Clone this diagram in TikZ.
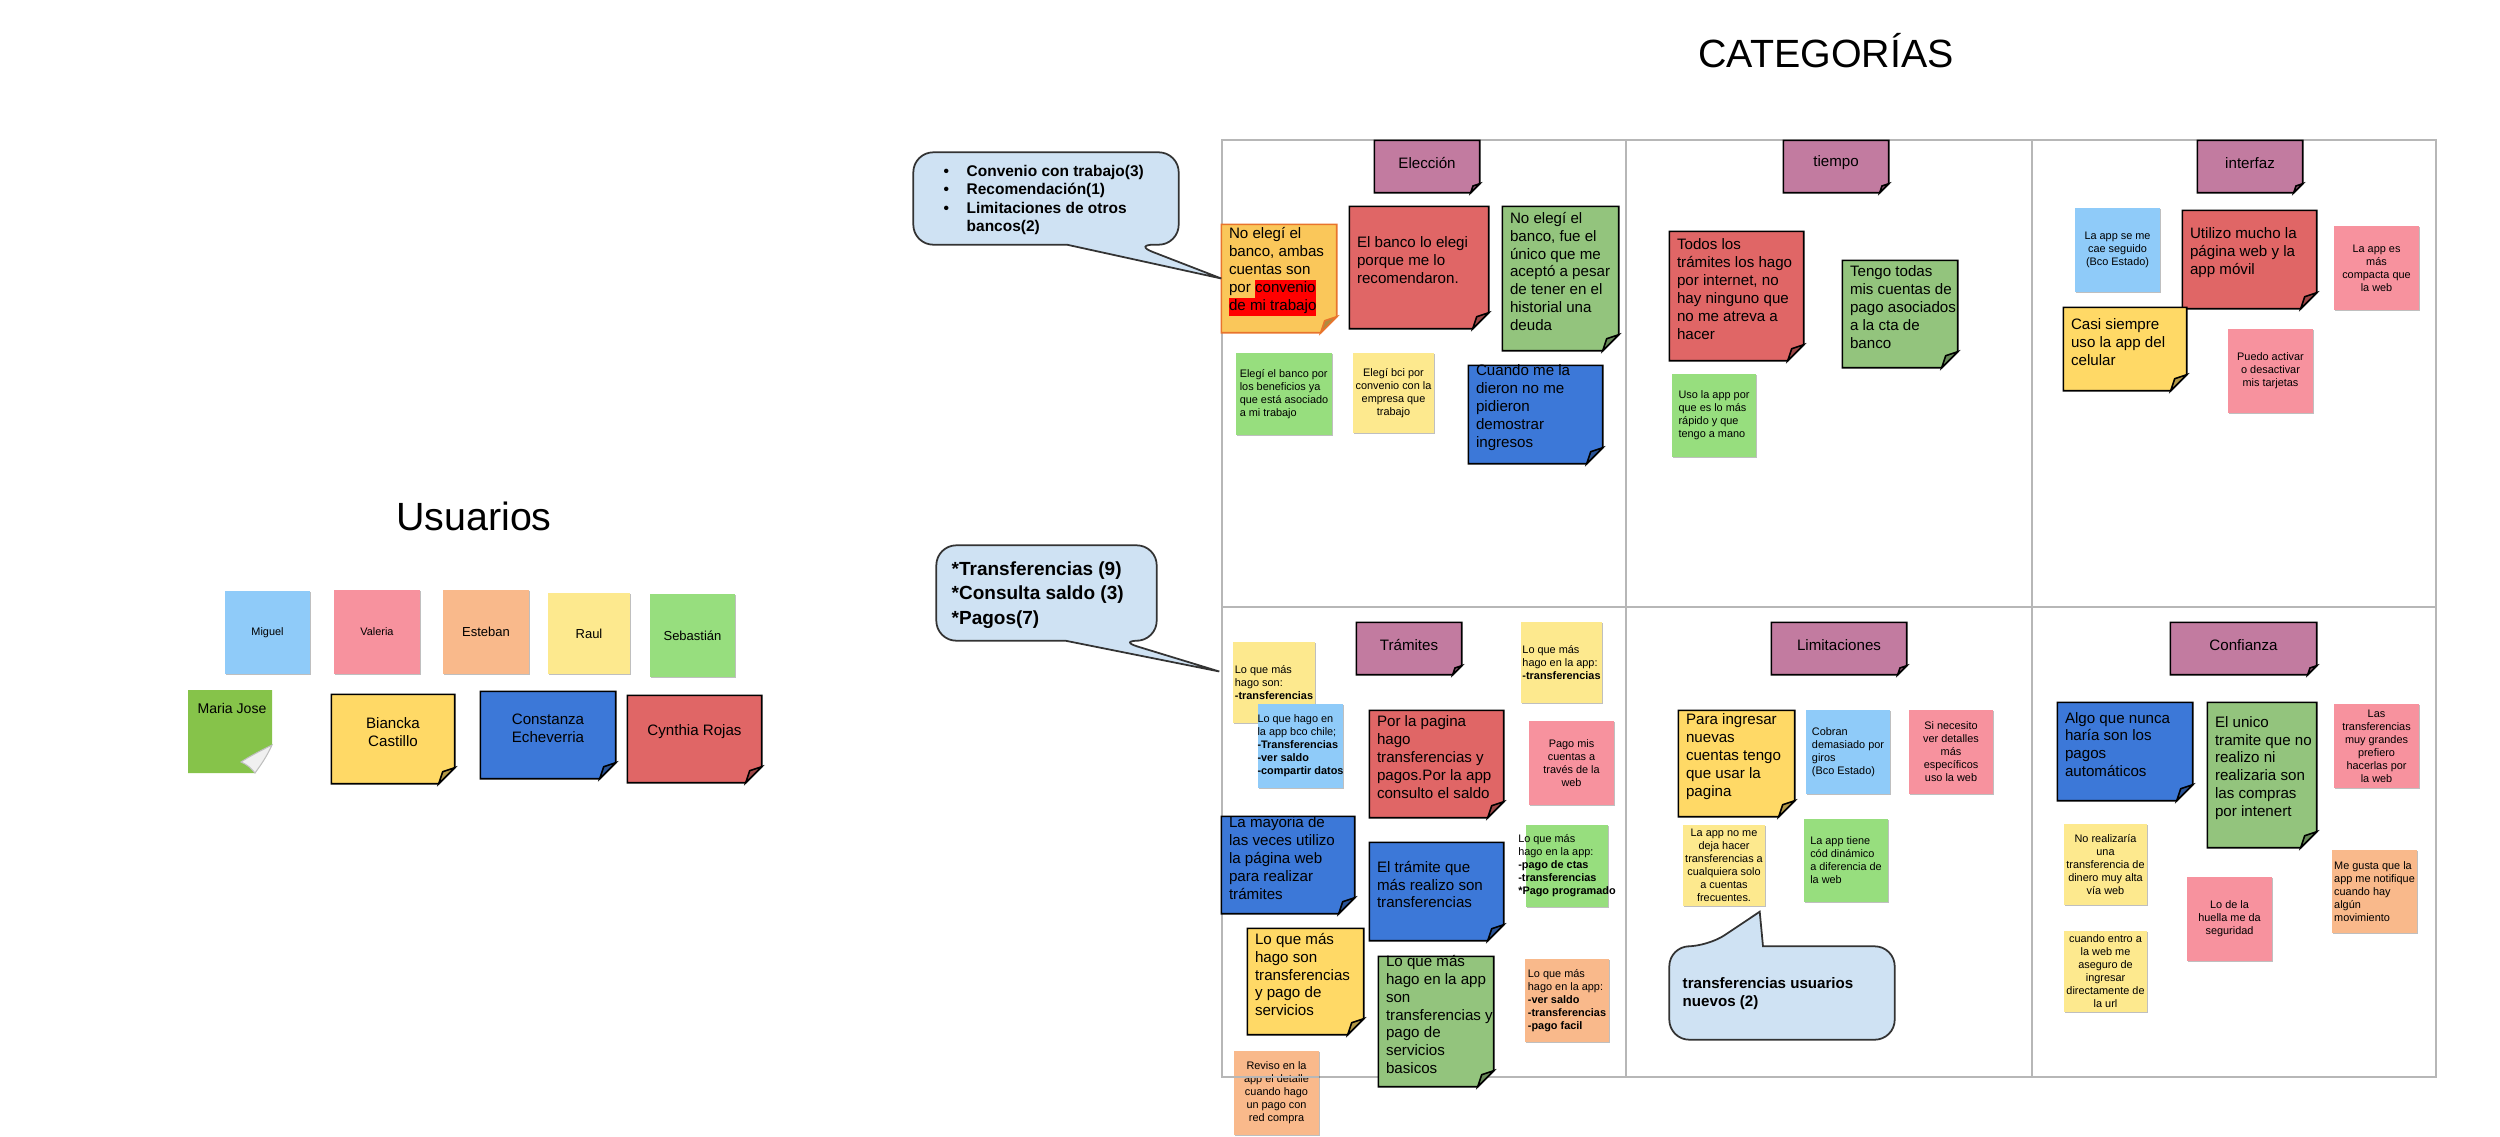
\documentclass[tikz,border=0pt]{standalone}
\usepackage{fontspec}
\setmainfont{Liberation Sans}
\usetikzlibrary{fit,shadows}

\definecolor{nyellow}{HTML}{FFD966}
\definecolor{nyellow2}{HTML}{FAC75A}
\definecolor{borange}{HTML}{E8742C}
\definecolor{nblue}{HTML}{3C78D8}
\definecolor{nred}{HTML}{E06666}
\definecolor{ngreen}{HTML}{93C47D}
\definecolor{npurple}{HTML}{C27BA0}
\definecolor{pblue}{HTML}{8FCBF9}
\definecolor{ppink}{HTML}{F7929E}
\definecolor{porange}{HTML}{F9B98B}
\definecolor{pyellow}{HTML}{FDE98E}
\definecolor{pgreen}{HTML}{97DE7E}
\definecolor{mjgreen}{HTML}{86C34A}
\definecolor{callblue}{HTML}{CFE2F3}
\definecolor{gridgray}{HTML}{B7B7B7}
\definecolor{hlred}{HTML}{FF0000}

\def\fo{0.16cm}
\def\tup{0.07cm}
\def\nbcol{black}
\tikzset{
  grid line/.style={draw=gridgray, line width=0.4pt},
  notebox/.style={draw=\nbcol, line width=0.45pt},
  paper/.style={fill=#1, drop shadow={shadow xshift=0.25pt, shadow yshift=-0.35pt, opacity=0.25, fill=black}},
  btext/.style={font=\fontsize{4.3}{5.1}\selectfont, inner sep=0pt},
  ptext/.style={font=\fontsize{3.1}{3.7}\selectfont, inner sep=0pt},
  txtleft/.style={align=left, anchor=west, at={([xshift=0.07cm,yshift=\tup]#1.west)}},
  txtcenter/.style={align=center, anchor=center, at={([yshift=\tup]#1.center)}},
  callshape/.style={fill=callblue, draw=black!80, line width=0.5pt},
}
\newcommand{\hlight}[1]{{\setlength{\fboxsep}{0pt}\colorbox{hlred}{\strut #1}}}
\newcommand{\bignote}[6][left]{\node[fit={(#4) (#5)}, inner sep=0pt] (#2) {};
  \filldraw[notebox, fill=#3] (#2.north west) -- (#2.north east) -- ([yshift=\fo]#2.south east) -- ([xshift=-\fo]#2.south east) -- (#2.south west) -- cycle;
  \filldraw[notebox, fill=#3!70!black] ([yshift=\fo]#2.south east) -- ([xshift=-\fo]#2.south east) -- ([xshift=-0.75*\fo, yshift=0.75*\fo]#2.south east) -- cycle;
  \node[btext, txt#1=#2] (#2-t) {#6};}
\newcommand{\header}[4]{{\def\fo{0.09cm}\def\tup{0.035cm}\bignote[center]{#1}{npurple}{#2}{#3}{#4}}}
\newcommand{\papernote}[6][left]{\node[paper=#3, fit={(#4) (#5)}, inner sep=0pt] (#2) {};
  \node[ptext, align=#1] (#2-t) at (#2.center) {#6};}

\begin{document}
\begin{tikzpicture}[x=0.01cm, y=-0.01cm]
    \useasboundingbox (0,0) rectangle (2500,1136);
    \node[font=\fontsize{11.2}{13}\selectfont, anchor=base, inner sep=0pt] (cat) at (1826,67) {CATEGORÍAS};
    \node[font=\fontsize{11.2}{13}\selectfont, anchor=base, inner sep=0pt] (usr) at (474,530) {Usuarios};
    % grid
    \draw[grid line] (1222,140) rectangle (2436,1077);
    \draw[grid line] (1626,140) -- (1626,1077) (2032,140) -- (2032,1077) (1222,607) -- (2436,607);
    % usuarios
    \papernote[center]{uMiguel}{pblue}{225,591}{310,674}{Miguel}
    \papernote[center]{uValeria}{ppink}{334,590}{420,674}{Valeria}
    \papernote[center]{uEsteban}{porange}{443,590}{529,674}{\fontsize{3.7}{4.4}\selectfont Esteban}
    \papernote[center]{uRaul}{pyellow}{548,593}{630,674}{\fontsize{3.7}{4.4}\selectfont Raul}
    \papernote[center]{uSebastian}{pgreen}{650,594}{735,677}{\fontsize{3.7}{4.4}\selectfont Sebastián}
    \node[fit={(188,690) (272,773)}, inner sep=0pt] (uMariaJose) {};
    \fill[mjgreen] (188,690) -- (272,690) -- (272,745) .. controls (266,758) and (260,766) .. (255,773) -- (188,773) -- cycle;
    \filldraw[fill=black!6, draw=black!25, line width=0.3pt] (272,745) .. controls (262,750) and (250,756) .. (241,762) .. controls (248,765) and (252,769) .. (255,773) .. controls (260,766) and (266,758) .. (272,745) -- cycle;
    \node[font=\fontsize{4}{4.8}\selectfont, inner sep=0pt] (uMariaJose-t) at (232,708) {Maria Jose};
    \bignote[center]{uBiancka}{nyellow}{332,695}{454,783}{Biancka\\Castillo}
    \bignote[center]{uConstanza}{nblue}{481,692}{615,778}{Constanza\\Echeverria}
    \bignote[center]{uCynthia}{nred}{628,696}{761,782}{Cynthia Rojas}
    % Eleccion
    \header{hE}{1375,141}{1479,192}{Elección}
    {\def\nbcol{borange}\bignote{E1}{nyellow2}{1222,225}{1336,332}{No elegí el\\banco, ambas\\cuentas son\\por \hlight{convenio}\\\hlight{de mi trabajo}}}
    \bignote{E2}{nred}{1350,207}{1488,328}{El banco lo elegi\\porque me lo\\recomendaron.}
    \bignote{E3}{ngreen}{1503,207}{1618,350}{No elegí el\\banco, fue el\\único que me\\aceptó a pesar\\de tener en el\\historial una\\deuda}
    \papernote{E4}{pgreen}{1236,353}{1332,435}{Elegí el banco por\\los beneficios ya\\que está asociado\\a mi trabajo}
    \papernote[center]{E5}{pyellow}{1353,353}{1434,433}{Elegí bci por\\convenio con la\\empresa que\\trabajo}
    \bignote{E6}{nblue}{1469,366}{1602,463}{Cuando me la\\dieron no me\\pidieron\\demostrar\\ingresos}
    \node[fit={(914,153) (1178,244)}, inner sep=0pt] (cE) {};
    \filldraw[callshape] (cE.north) [rounded corners=0.2cm] -- (cE.north east) -- (cE.south east) -- ([xshift=0.88cm]cE.south) [sharp corners] -- (E1.west) -- ([xshift=0.21cm]cE.south) [rounded corners=0.2cm] -- (cE.south west) -- (cE.north west) -- cycle;
    \node[font=\bfseries\fontsize{4.4}{5.2}\selectfont, align=left, anchor=west, inner sep=0pt] (cE-t) at (966,200) {\llap{\textbullet\hspace{5pt}}Convenio con trabajo(3)\\\llap{\textbullet\hspace{5pt}}Recomendación(1)\\\llap{\textbullet\hspace{5pt}}Limitaciones de otros\\bancos(2)};
    % tiempo
    \header{hTi}{1784,141}{1888,192}{tiempo}
    \bignote{Ti1}{nred}{1670,232}{1803,360}{Todos los\\trámites los hago\\por internet, no\\hay ninguno que\\no me atreva a\\hacer}
    \bignote{Ti2}{ngreen}{1843,261}{1957,367}{Tengo todas\\mis cuentas de\\pago asociados\\a la cta de\\banco}
    \papernote{Ti3}{pgreen}{1672,374}{1756,457}{Uso la app por\\que es lo más\\rápido y que\\tengo a mano}
    % interfaz
    \header{hI}{2198,141}{2302,192}{interfaz}
    \papernote[center]{I1}{pblue}{2075,208}{2160,292}{La app se me\\cae seguido\\(Bco Estado)}
    \bignote{I2}{nred}{2183,211}{2316,308}{Utilizo mucho la\\página web y la\\app móvil}
    \papernote[center]{I3}{ppink}{2334,226}{2419,310}{La app es\\más\\compacta que\\la web}
    \bignote{I4}{nyellow}{2064,308}{2186,390}{Casi siempre\\uso la app del\\celular}
    \papernote[center]{I5}{ppink}{2228,329}{2313,413}{Puedo activar\\o desactivar\\mis tarjetas}
    % Tramites
    \header{hT}{1357,623}{1461,674}{Trámites}
    \papernote{T1}{pyellow}{1233,642}{1315,723}{Lo que más\\hago son:\\\textbf{-transferencias}}
    \papernote{T2}{pblue}{1258,704}{1343,788}{Lo que hago en\\la app bco chile;\\\textbf{-Transferencias}\\\textbf{-ver saldo}\\\textbf{-compartir datos}}
    \bignote{T3}{nred}{1370,711}{1503,817}{Por la pagina\\hago\\transferencias y\\pagos.Por la app\\consulto el saldo}
    \papernote{T4}{pyellow}{1521,622}{1602,703}{Lo que más\\hago en la app:\\\textbf{-transferencias}}
    \papernote[center]{T5}{ppink}{1529,721}{1614,805}{Pago mis\\cuentas a\\través de la\\web}
    \bignote{T6}{nblue}{1222,817}{1354,913}{La mayoria de\\las veces utilizo\\la página web\\para realizar\\trámites}
    \bignote{T7}{nblue}{1370,843}{1503,940}{El trámite que\\más realizo son\\transferencias}
    \papernote{T8}{pgreen}{1526,825}{1608,907}{Lo que más\\hago en la app:\\\textbf{-pago de ctas}\\\textbf{-transferencias}\\\textbf{*Pago programado}}
    \bignote{T9}{nyellow}{1248,929}{1363,1034}{Lo que más\\hago son\\transferencias\\y pago de\\servicios}
    \papernote[center]{T12}{porange}{1234,1051}{1319,1135}{Reviso en la\\app el detalle\\cuando hago\\un pago con\\red compra}
    \draw[grid line] (1234,1077) -- (1319,1077);
    \bignote{T10}{ngreen}{1379,957}{1493,1086}{Lo que más\\hago en la app\\son\\transferencias y\\pago de\\servicios\\basicos}
    \papernote{T11}{porange}{1525,959}{1609,1042}{Lo que más\\hago en la app:\\\textbf{-ver saldo}\\\textbf{-transferencias}\\\textbf{-pago facil}}
    \node[fit={(937,546) (1156,640)}, inner sep=0pt] (cT) {};
    \filldraw[callshape] (cT.north) [rounded corners=0.2cm] -- (cT.north east) -- (cT.south east) -- ([xshift=0.72cm]cT.south) [sharp corners] -- ([xshift=-0.13cm,yshift=0.11cm]T1.west) -- ([xshift=0.19cm]cT.south) [rounded corners=0.2cm] -- (cT.south west) -- (cT.north west) -- cycle;
    \node[font=\bfseries\fontsize{5.4}{7}\selectfont, align=left, anchor=west, inner sep=0pt] (cT-t) at (951,595) {*Transferencias (9)\\*Consulta saldo (3)\\*Pagos(7)};
    % Limitaciones
    \header{hL}{1772,623}{1906,674}{Limitaciones}
    \bignote{L1}{nyellow}{1679,711}{1794,816}{Para ingresar\\nuevas\\cuentas tengo\\que usar la\\pagina}
    \papernote{L2}{pblue}{1806,710}{1890,794}{Cobran\\demasiado por\\giros\\(Bco Estado)}
    \papernote[center]{L3}{ppink}{1909,710}{1993,794}{Si necesito\\ver detalles\\más\\específicos\\uso la web}
    \papernote[center]{L4}{pyellow}{1683,825}{1765,906}{La app no me\\deja hacer\\transferencias a\\cualquiera solo\\a cuentas\\frecuentes.}
    \papernote{L5}{pgreen}{1804,819}{1888,902}{La app tiene\\cód dinámico\\a diferencia de\\la web}
    \node[fit={(1670,947) (1894,1039)}, inner sep=0pt] (cL) {};
    \filldraw[callshape] (cL.south) [rounded corners=0.2cm] -- (cL.south west) -- (cL.north west) -- ([xshift=-0.74cm]cL.north) [sharp corners] -- ([xshift=-0.06cm,yshift=-0.05cm]L4.south east) -- ([xshift=-0.19cm]cL.north) [rounded corners=0.2cm] -- (cL.north east) -- (cL.south east) -- cycle;
    \node[font=\bfseries\fontsize{4.3}{5.1}\selectfont, align=left, anchor=west, inner sep=0pt] (cL-t) at (1682,994) {transferencias usuarios\\nuevos (2)};
    % Confianza
    \header{hC}{2171,623}{2316,674}{Confianza}
    \bignote{C1}{nblue}{2058,703}{2192,800}{Algo que nunca\\haría son los\\pagos\\automáticos}
    \bignote{C2}{ngreen}{2208,703}{2316,847}{El unico\\tramite que no\\realizo ni\\realizaria son\\las compras\\por intenert}
    \papernote[center]{C3}{ppink}{2334,704}{2419,788}{Las\\transferencias\\muy grandes\\prefiero\\hacerlas por\\la web}
    \papernote[center]{C4}{pyellow}{2064,824}{2147,905}{No realizaría\\una\\transferencia de\\dinero muy alta\\vía web}
    \papernote[center]{C5}{ppink}{2187,877}{2272,961}{Lo de la\\huella me da\\seguridad}
    \papernote{C6}{porange}{2332,850}{2417,933}{Me gusta que la\\app me notifique\\cuando hay\\algún\\movimiento}
    \papernote[center]{C7}{pyellow}{2064,931}{2147,1012}{cuando entro a\\la web me\\aseguro de\\ingresar\\directamente de\\la url}
\end{tikzpicture}
\end{document}
